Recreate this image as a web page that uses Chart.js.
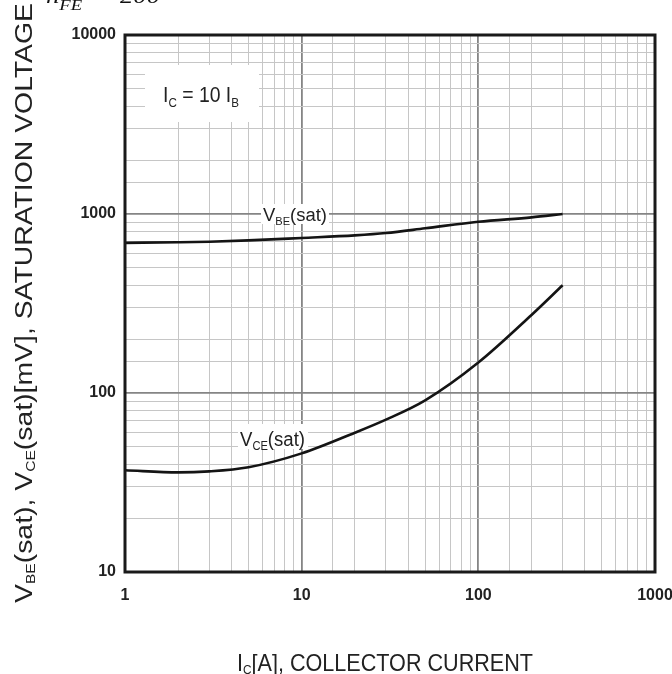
<!DOCTYPE html>
<html>
<head>
<meta charset="utf-8">
<script src="https://cdn.jsdelivr.net/npm/chart.js@4.4.1/dist/chart.umd.min.js"></script>
<style>
  html, body { margin: 0; padding: 0; background: #ffffff; }
  #wrap { width: 672px; height: 674px; position: relative; }
</style>
</head>
<body>
<div id="wrap"><canvas id="c" width="672" height="674"></canvas></div>
<script>
// ---- data ----
const currentA = [1, 2, 3, 5, 10, 20, 30, 50, 100, 200, 300];           // Ic [A]
const vbeSat   = [690, 695, 700, 712, 735, 760, 783, 832, 905, 958, 1000]; // mV
const vceSat   = [37, 36, 36.5, 38.5, 46, 60, 71, 91, 148, 273, 400];      // mV
const xTickLabels = [1, 10, 100, 1000];
const yTickLabels = [10, 100, 1000, 10000];

const FONT = '"Liberation Sans", Arial, sans-serif';

function isDecade(v) {
  if (!(v > 0)) return false;
  const l = Math.log10(v);
  return Math.abs(l - Math.round(l)) < 1e-9;
}
function inList(v, list) {
  return list.some(t => Math.abs(t - v) / t < 1e-9);
}

// rich text: runs = [[text, isSub], ...]
function drawRich(ctx, runs, x, y, o) {
  const size = o.size, subSize = size * (o.subRatio || 0.6);
  const weight = o.weight || 'normal';
  const fam = o.family || FONT;
  const style = o.style || 'normal';
  const fontFor = sub => `${style} ${weight} ${sub ? subSize : size}px ${fam}`;
  let W = 0;
  const widths = runs.map(r => { ctx.font = fontFor(r[1]); const w = ctx.measureText(r[0]).width; W += w; return w; });
  const sx = o.fitWidth ? o.fitWidth / W : (o.scaleX || 1);
  const sy = o.scaleY || 1;
  ctx.save();
  ctx.translate(x, y);
  ctx.scale(sx, sy);
  ctx.fillStyle = o.color || '#222';
  ctx.textBaseline = 'alphabetic';
  ctx.textAlign = 'left';
  let cx = (o.align === 'center') ? -W / 2 : 0;
  runs.forEach((r, i) => {
    ctx.font = fontFor(r[1]);
    ctx.fillText(r[0], cx, r[1] ? size * (o.subDrop || 0.2) : 0);
    cx += widths[i];
  });
  ctx.restore();
}

const decorPlugin = {
  id: 'decor',
  afterDatasetsDraw(chart) {
    const ctx = chart.ctx;
    const a = chart.chartArea;
    ctx.save();
    // white label backgrounds
    ctx.fillStyle = '#ffffff';
    ctx.fillRect(145, 65, 114, 57);
    ctx.fillRect(261, 204, 68, 20);
    ctx.fillRect(238, 424, 70, 25);
    // labels in plot
    drawRich(ctx, [['I', false], ['C', true], [' = 10 I', false], ['B', true]], 201, 102,
      { size: 20, fitWidth: 76, scaleY: 1.1, align: 'center', color: '#222', subDrop: 0.22 });
    drawRich(ctx, [['V', false], ['BE', true], ['(sat)', false]], 263, 221,
      { size: 18, fitWidth: 64, scaleY: 1.0, color: '#222' });
    drawRich(ctx, [['V', false], ['CE', true], ['(sat)', false]], 240, 446,
      { size: 20, fitWidth: 65, scaleY: 1.05, color: '#222' });
    // plot border
    ctx.strokeStyle = '#1a1a1a';
    ctx.lineWidth = 3;
    ctx.strokeRect(a.left, a.top, a.right - a.left, a.bottom - a.top);
    ctx.restore();
  },
  afterDraw(chart) {
    const ctx = chart.ctx;
    ctx.save();
    // y axis title (rotated, elongated like the reference)
    ctx.translate(32, 303);
    ctx.rotate(-Math.PI / 2);
    drawRich(ctx, [['V', false], ['BE', true], ['(sat), V', false], ['CE', true], ['(sat)[mV], SATURATION VOLTAGE', false]],
      0, 0, { size: 23.5, fitWidth: 600, align: 'center', color: '#222', subRatio: 0.55, subDrop: 0.12 });
    ctx.restore();
    // x axis title
    drawRich(ctx, [['I', false], ['C', true], ['[A], COLLECTOR CURRENT', false]], 385, 671,
      { size: 24, fitWidth: 296, align: 'center', color: '#222', subRatio: 0.55, subDrop: 0.12 });
    // partially cut-off line at the very top
    drawRich(ctx, [['h', false], ['FE', true], ['  = 200', false]], 46, 3,
      { size: 22, family: '"Liberation Serif", "DejaVu Serif", serif', style: 'italic', color: '#111', subRatio: 0.7, subDrop: 0.33, fitWidth: 114 });
  }
};

const toXY = (xs, ys) => xs.map((x, i) => ({ x: x, y: ys[i] }));

const gridOpts = {
  color: c => isDecade(c.tick && c.tick.value) ? '#858585' : '#c6c6c6',
  lineWidth: c => isDecade(c.tick && c.tick.value) ? 1.8 : 1,
  drawTicks: false
};

new Chart(document.getElementById('c'), {
  type: 'line',
  data: {
    datasets: [
      { label: 'VBE(sat)', data: toXY(currentA, vbeSat), borderColor: '#141414', borderWidth: 2.6,
        pointRadius: 0, tension: 0.4, cubicInterpolationMode: 'monotone', fill: false },
      { label: 'VCE(sat)', data: toXY(currentA, vceSat), borderColor: '#141414', borderWidth: 2.6,
        pointRadius: 0, tension: 0.4, cubicInterpolationMode: 'monotone', fill: false }
    ]
  },
  options: {
    responsive: false,
    animation: false,
    devicePixelRatio: 1,
    layout: { padding: { left: 0, top: 35, right: 17, bottom: 0 } },
    plugins: { legend: { display: false }, tooltip: { enabled: false } },
    scales: {
      x: {
        type: 'logarithmic', min: 1, max: 1000, position: 'bottom',
        grid: gridOpts,
        border: { display: false },
        ticks: {
          autoSkip: false, maxRotation: 0, padding: 14, color: '#222',
          font: { family: FONT, size: 16, weight: 'bold' },
          callback: v => inList(v, xTickLabels) ? String(v) : ''
        },
        afterFit: s => { s.height = 102; s.paddingLeft = 0; s.paddingRight = 0; }
      },
      y: {
        type: 'logarithmic', min: 10, max: 10000, position: 'left',
        grid: gridOpts,
        border: { display: false },
        ticks: {
          autoSkip: false, padding: 9, color: '#222',
          font: { family: FONT, size: 16, weight: 'bold' },
          callback: v => inList(v, yTickLabels) ? String(v) : ''
        },
        afterFit: s => { s.width = 125; s.paddingTop = 0; s.paddingBottom = 0; }
      }
    }
  },
  plugins: [decorPlugin]
});
</script>
</body>
</html>
